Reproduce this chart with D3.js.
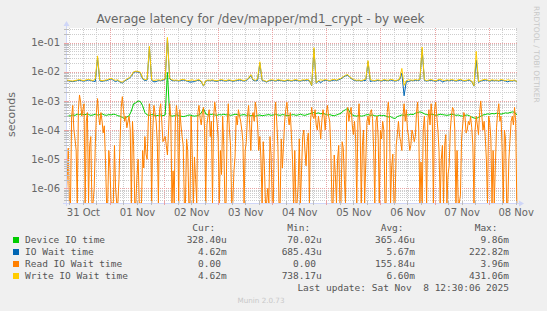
<!DOCTYPE html>
<html><head><meta charset="utf-8">
<script src="https://cdn.jsdelivr.net/npm/d3@7"></script>
<style>
html,body{margin:0;padding:0;background:#F0F0F0;}
svg{display:block;}
text{font-family:"DejaVu Sans",sans-serif;fill:#666;}
.mono{font-family:"DejaVu Sans Mono",monospace;font-size:9.5px;fill:#555;}
</style></head><body>
<svg id="c" width="547" height="311"></svg>
<script>
// ---------- data ----------
const chartTitle = "Average latency for /dev/mapper/md1_crypt - by week";
const yAxisLabel = "seconds";
const startTime = Date.UTC(2025, 9, 31, 4, 30);   // first sample
const hourMs = 3600 * 1000;                         // green/blue/yellow: hourly samples
const halfHourMs = 1800 * 1000;                     // read IO wait: 30-minute samples
const xTickLabels = ["31 Oct","01 Nov","02 Nov","03 Nov","04 Nov","05 Nov","06 Nov","07 Nov","08 Nov"];
const xTickDates = [Date.UTC(2025,9,31,12),Date.UTC(2025,10,1,12),Date.UTC(2025,10,2,12),Date.UTC(2025,10,3,12),
  Date.UTC(2025,10,4,12),Date.UTC(2025,10,5,12),Date.UTC(2025,10,6,12),Date.UTC(2025,10,7,12),Date.UTC(2025,10,8,12)];
const yTickValues = [1e-6,1e-5,1e-4,1e-3,1e-2,1e-1];
const yTickLabels = ["1e-06","1e-05","1e-04","1e-03","1e-02","1e-01"];
const seriesNames = ["Device IO time","IO Wait time","Read IO Wait time","Write IO Wait time"];
const seriesColors = ["#00CC00","#0066B3","#FF8000","#FFCC00"];

// values in milliseconds
const deviceIO = [
0.29,0.30,0.31,0.33,0.32,0.35,0.34,0.36,0.33,0.35,
0.34,0.32,0.33,0.35,0.33,0.34,0.36,0.33,0.32,0.34,
0.33,0.35,0.34,0.31,0.30,0.27,0.25,0.28,0.31,0.45,
0.80,0.86,1.0,0.95,0.68,0.40,0.33,0.32,0.34,0.33,
0.31,0.32,0.33,0.31,0.33,9.5,0.32,0.30,0.31,0.33,
0.31,0.30,0.29,0.30,0.32,0.33,0.31,0.30,0.31,0.33,
0.38,0.55,0.36,0.33,0.34,0.35,0.33,0.32,0.34,0.33,
0.35,0.33,0.34,0.32,0.33,0.35,0.34,0.32,0.33,0.34,
0.32,0.33,0.31,0.32,0.30,0.32,0.33,0.31,0.32,0.33,
0.34,0.32,0.33,0.35,0.33,0.32,0.34,0.33,0.31,0.32,
0.33,0.34,0.32,0.33,0.35,0.33,0.32,0.34,0.36,0.38,
0.40,0.37,0.39,0.36,0.38,0.35,0.33,0.34,0.32,0.31,
0.33,0.35,0.38,0.45,0.50,0.56,0.40,0.33,0.31,0.30,
0.32,0.30,0.31,0.33,0.34,0.32,0.33,0.31,0.30,0.32,
0.31,0.32,0.30,0.28,0.29,0.26,0.25,0.29,0.31,0.33,
0.32,0.34,0.33,0.35,0.34,0.38,0.40,0.42,0.40,0.36,
0.34,0.33,0.35,0.34,0.32,0.33,0.35,0.34,0.33,0.32,
0.33,0.35,0.34,0.32,0.33,0.31,0.30,0.32,0.33,0.31,
0.28,0.26,0.25,0.27,0.30,0.33,0.34,0.36,0.35,0.37,
0.36,0.38,0.37,0.35,0.37,0.39,0.38,0.40,0.42,0.41,
0.328];

const ioWait = [
5.0,4.9,4.7,4.6,4.8,5.0,5.1,4.9,4.8,5.0,
5.2,5.0,4.8,4.6,30,4.9,4.7,4.9,5.0,5.3,
5.7,5.1,4.6,5.0,4.4,4.1,4.8,5.3,5.9,7.0,
9.6,10.0,9.8,9.0,5.6,5.0,5.2,70,5.1,4.5,
4.6,5.0,4.9,5.1,5.5,140,5.7,5.0,4.9,5.0,
4.8,5.0,5.2,5.0,4.7,4.4,4.5,4.6,5.0,5.1,
4.6,3.2,4.8,5.0,4.9,5.0,4.8,4.7,5.0,5.1,
4.9,4.8,5.0,5.0,4.7,4.9,5.0,5.2,5.0,4.8,
5.0,5.7,7.5,5.1,4.9,5.0,20,5.0,4.8,4.4,
4.9,5.0,5.0,4.8,5.1,5.0,4.9,4.7,5.0,5.0,
4.8,5.0,5.1,4.9,4.8,5.0,5.0,5.2,4.9,3.3,
60,4.0,4.8,4.2,4.9,5.1,5.0,4.8,5.0,5.2,
5.0,5.3,5.7,6.5,7.2,7.6,6.3,5.5,5.0,4.9,
5.0,4.8,5.0,5.0,22,4.6,4.9,4.8,5.0,5.0,
4.8,5.1,5.0,4.9,5.2,5.0,4.8,5.0,5.3,9,
1.5,4.8,4.6,5.0,4.9,5.1,5.0,5.2,60,5.0,
4.8,5.0,5.1,4.9,4.7,5.0,5.3,4.4,4.8,5.0,
4.9,5.1,5.0,4.8,5.0,5.2,4.9,4.8,5.0,5.1,
4.6,3.2,25,4.3,4.8,5.0,5.2,5.0,4.8,5.0,
4.9,5.0,4.8,5.1,5.0,4.8,4.5,4.9,4.8,5.0,
4.62];

const readIOWait = [
0,0.002,0.024,0,0,0.3,0.7,0.1,0.05,0.02,0,0.5,1.6,0.9,0.3,0.5,0.8,0,0.2,0.4,
0,0.03,0.06,0,0,0.001,0.03,0.4,1.2,0.3,0.15,0.4,0.2,0.08,0.14,0.01,0,0,0.02,0.005,
0,0,0,0.03,0.001,0,0,0.002,0.05,0.6,1.4,0.5,0.2,0.3,0.12,0.2,0.3,0.1,0,0.2,
0.03,0,0,0.003,0.01,0,0,0,0.02,0.005,0.06,0.015,0.01,0.2,0.8,0.3,0,0.1,0.7,0.4,
0.2,0.04,0,0.5,0.8,0.2,0.04,0.05,0.06,0.03,0.014,0.1,0.8,0.3,0,0.004,0,0.2,0.7,0.3,
0,0.5,0.15,0.06,0.03,0,0,0.05,0.02,0,0,0.3,0.015,0,0.012,0.002,0,0.4,0.7,0.25,
0.15,0.4,0.6,0.1,0,0.15,0.3,0.5,0.06,0.2,0,0.3,0.9,0.4,0.2,0.05,0,0.02,0.003,0.3,
0.03,0,0,0.15,0.8,0.1,0.03,0,0,0.004,0.012,0.3,0.15,0.5,0.3,0.2,0.1,0.04,0,0.02,
0.04,0.3,0.7,0.15,0.02,0.3,0.4,0.2,0.9,0.5,0.15,0.02,0.06,0.01,0,0.04,0.006,0,0,0.001,
0,0.06,0.014,0,0,0.3,0.9,0.2,0.03,0,0,0.05,0.005,0.03,0.2,0.5,0.9,0.3,0.15,0.4,
0.07,0.01,0,0.02,0,0,0.0013,0.05,0,0.004,0.06,0.1,0.02,0.006,0.04,0.08,0,0.2,0.6,0.3,
0.25,0.5,0.15,0.1,0.3,0.15,0.05,0.2,0.5,0.3,0.1,0.4,0.7,0.3,0.2,0.02,0,0,0.014,0.003,
0,0.01,0.03,0,0,0.04,0.025,0.002,0,0.3,0.6,0.2,0.4,0.6,0.15,0.07,0.2,0.05,0,0.2,
0.8,0.1,0,0.03,0.1,0,0.008,0.2,0.3,0.15,0.4,0.5,0.25,0.02,0,0.2,0.3,0.05,0,0.1,
0.05,0.2,0.1,0,0,0.4,0.9,0.3,0,0.006,0.015,0,0,0.03,0.07,0.2,0.06,0.04,0.02,0.3,
0.8,0.2,0.5,0.1,0.06,0.02,0.03,0.1,0.07,0.04,0.06,0.4,0.9,0.1,0,0.008,0,0.1,0.3,0.04,
0,0.2,0.5,0.15,0.8,0.3,0,0.5,0.9,0.3,0.1,0.02,0,0.01,0.03,0,0.03,0.07,0,0.003,
0.006,0.1,0.3,0.6,0.5,0.1,0,0.02,0,0,0.0006,0.05,0.15,0.4,0.3,0.08,0.1,0.2,0.15,0.3,
0.12,0.03,0,0.1,0.3,0.15,0.07,0.4,1.0,0.3,0.1,0.2,0.06,0.01,0,0.3,0.18,0.05,0,0.02,
0,0.006,0.12,0.4,0.8,0.2,0.3,0.02,0,0.1,0.05,0,0,0.01,0.05,0.2,0.3,0.15,0.6,0.2,
0];

const writeIOWait = [
5.3,5.1,4.9,4.8,5.0,5.2,5.4,5.1,5.0,5.3,
5.5,5.2,5.0,5.6,35,5.2,4.9,5.1,5.3,5.6,
6.0,5.4,5.1,5.3,4.6,4.4,5.0,5.6,6.2,7.5,
10,10.5,10.2,9.6,6.0,5.3,5.5,75,5.4,5.0,
5.2,5.3,5.1,5.4,5.8,150,6.0,5.3,5.1,5.2,
5.0,5.3,5.5,5.2,4.9,5.1,5.3,5.0,5.2,5.4,
4.8,3.3,5.0,5.2,5.1,5.3,5.0,4.9,5.2,5.4,
5.1,5.0,5.3,5.2,4.9,5.1,5.3,5.5,5.2,5.0,
5.3,6.0,8.0,5.4,5.1,5.6,22,5.3,5.0,4.6,
5.1,5.3,5.2,5.0,5.4,5.2,5.1,4.9,5.3,5.2,
5.0,5.2,5.4,5.1,5.0,5.3,5.2,5.5,5.1,3.4,
67,4.2,5.0,5.3,5.1,5.4,5.2,5.0,5.3,5.5,
5.2,5.6,6.0,6.8,7.6,8.0,6.6,5.8,5.3,5.1,
5.2,5.0,5.3,5.6,24,5.4,5.1,5.0,5.3,5.2,
5.0,5.4,5.2,5.1,5.5,5.3,5.0,5.2,5.6,13,
3.4,5.0,5.3,5.2,5.1,5.4,5.2,5.5,70,5.3,
5.0,5.2,5.4,5.1,4.9,5.3,5.6,5.2,5.0,5.3,
5.1,5.4,5.2,5.0,5.3,5.5,5.1,5.0,5.2,5.4,
4.8,3.3,50,4.6,5.0,5.3,5.5,5.2,5.0,5.3,
5.1,5.2,5.0,5.4,5.2,5.0,5.3,5.1,5.0,5.2,
4.62];

const legendCur = ["328.40u","4.62m","0.00","4.62m"];
const legendMin = ["70.02u","685.43u","0.00","738.17u"];
const legendAvg = ["365.46u","5.67m","155.84u","6.60m"];
const legendMax = ["9.86m","222.82m","3.96m","431.06m"];
const legendHeaders = ["Cur:","Min:","Avg:","Max:"];
const lastUpdate = "Last update: Sat Nov  8 12:30:06 2025";
const footer = "Munin 2.0.73";
const watermark = "RRDTOOL / TOBI OETIKER";

// ---------- layout ----------
const L = 66, R = 517, T = 28, B = 203;
const svg = d3.select("#c");
const endTime = startTime + (writeIOWait.length - 1) * hourMs;

const x = d3.scaleUtc().domain([new Date(startTime), new Date(endTime)]).range([L, 516.8]);
const y = d3.scaleLog().domain([Math.pow(10, -6.5), Math.pow(10, -0.5)]).range([B, T]).clamp(true);

svg.append("rect").attr("x", L).attr("y", T).attr("width", R - L).attr("height", B - T).attr("fill", "#FFFFFF");

// grid
const minorCol = "#cdcdcd", majorCol = "#eaa3a3";
const gGrid = svg.append("g");
const xMinor = x.ticks(d3.utcHour.every(6));
const xMajor = x.ticks(d3.utcDay.every(1));
const yAll = y.ticks(30);
const isMajorY = v => Math.abs(Math.log10(v) - Math.round(Math.log10(v))) < 1e-6;

gGrid.selectAll(".vmin").data(xMinor.filter(d => d.getUTCHours() !== 0)).join("line")
  .attr("x1", d => Math.round(x(d)) + 0.5).attr("x2", d => Math.round(x(d)) + 0.5)
  .attr("y1", T).attr("y2", B).attr("stroke", minorCol).attr("stroke-dasharray", "1,1");
gGrid.selectAll(".hmin").data(yAll.filter(v => !isMajorY(v))).join("line")
  .attr("y1", d => Math.round(y(d)) + 0.5).attr("y2", d => Math.round(y(d)) + 0.5)
  .attr("x1", L).attr("x2", R).attr("stroke", minorCol).attr("stroke-dasharray", "1,1");
gGrid.selectAll(".vmaj").data(xMajor).join("line")
  .attr("x1", d => Math.round(x(d)) + 0.5).attr("x2", d => Math.round(x(d)) + 0.5)
  .attr("y1", T).attr("y2", B).attr("stroke", majorCol).attr("stroke-dasharray", "1,1");
gGrid.selectAll(".hmaj").data(yAll.filter(isMajorY)).join("line")
  .attr("y1", d => Math.round(y(d)) + 0.5).attr("y2", d => Math.round(y(d)) + 0.5)
  .attr("x1", L).attr("x2", R).attr("stroke", majorCol).attr("stroke-dasharray", "1,1");

// series
svg.append("clipPath").attr("id", "clip").append("rect")
  .attr("x", L).attr("y", T).attr("width", R - L + 1).attr("height", B - T);
const seriesData = [deviceIO, ioWait, readIOWait, writeIOWait];
const seriesStep = [hourMs, hourMs, halfHourMs, hourMs];
seriesData.forEach((vals, k) => {
  const line = d3.line()
    .x((d, i) => x(new Date(startTime + i * seriesStep[k])))
    .y(d => y(d > 0 ? d * 1e-3 : y.domain()[0]));
  svg.append("path").datum(vals).attr("d", line)
    .attr("fill", "none").attr("stroke", seriesColors[k]).attr("stroke-width", 1)
    .attr("clip-path", "url(#clip)");
});

// axes
const axisCol = "#CFD6F8";
svg.append("line").attr("x1", L - 3).attr("x2", R + 3).attr("y1", B + 0.5).attr("y2", B + 0.5).attr("stroke", axisCol);
svg.append("line").attr("x1", L + 0.5).attr("x2", L + 0.5).attr("y1", B + 3).attr("y2", T - 3).attr("stroke", axisCol);
svg.append("path").attr("d", `M${R + 2},${B - 2.5}L${R + 7},${B + 0.5}L${R + 2},${B + 3.5}Z`).attr("fill", axisCol);
svg.append("path").attr("d", `M${L - 2.5},${T - 2}L${L + 0.5},${T - 7}L${L + 3.5},${T - 2}Z`).attr("fill", axisCol);

// small tick marks on axes
svg.selectAll(".ytk").data(yAll).join("line")
  .attr("x1", L - 2).attr("x2", L + 3).attr("y1", d => Math.round(y(d)) + 0.5).attr("y2", d => Math.round(y(d)) + 0.5)
  .attr("stroke", d => isMajorY(d) ? majorCol : "#bdbdbd");
svg.selectAll(".xtk").data(xMinor).join("line")
  .attr("y1", B - 2).attr("y2", B + 2).attr("x1", d => Math.round(x(d)) + 0.5).attr("x2", d => Math.round(x(d)) + 0.5)
  .attr("stroke", d => d.getUTCHours() === 0 ? majorCol : "#bdbdbd");

const yAxis = d3.axisLeft(y).tickValues(yTickValues).tickFormat((d, i) => yTickLabels[i]).tickSize(0).tickPadding(6);
const gy = svg.append("g").attr("transform", `translate(${L},0)`).call(yAxis);
gy.select(".domain").remove();
gy.selectAll("text").attr("font-family", "DejaVu Sans").attr("font-size", 10).attr("fill", "#666");

const xAxis = d3.axisBottom(x).tickValues(xTickDates.map(d => new Date(d))).tickFormat((d, i) => xTickLabels[i]).tickSize(0).tickPadding(6);
const gx = svg.append("g").attr("transform", `translate(0,${B})`).call(xAxis);
gx.select(".domain").remove();
gx.selectAll("text").attr("font-family", "DejaVu Sans").attr("font-size", 10).attr("fill", "#666");

// title & labels
svg.append("text").attr("x", 260.5).attr("y", 23).attr("text-anchor", "middle")
  .attr("font-size", 12).text(chartTitle);
svg.append("text").attr("transform", "translate(15,114.5) rotate(-90)").attr("text-anchor", "middle")
  .attr("font-size", 11).text(yAxisLabel);
svg.append("text").attr("transform", "translate(534.3,6) rotate(90)").attr("text-anchor", "start")
  .attr("font-size", 7.5).style("fill", "#c8c8c8").text(watermark);
svg.append("text").attr("x", 261).attr("y", 303).attr("text-anchor", "middle")
  .attr("font-size", 7.2).style("fill", "#c8c8c8").text(footer);

// legend
const charW = 5.72;
const colEnds = [226.7, 321.7, 415, 509];
const cols = [legendCur, legendMin, legendAvg, legendMax];
const lg = svg.append("g");
legendHeaders.forEach((h, c) => {
  lg.append("text").attr("class", "mono").attr("x", colEnds[c] - 2 * charW).attr("y", 231)
    .attr("text-anchor", "end").text(h);
});
seriesNames.forEach((name, r) => {
  const by = 243 + r * 12;
  lg.append("rect").attr("x", 13).attr("y", by - 6).attr("width", 6).attr("height", 6).attr("fill", seriesColors[r]);
  lg.append("text").attr("class", "mono").attr("x", 25).attr("y", by).text(name);
  cols.forEach((col, c) => {
    const s = col[r];
    const xe = /[a-zA-Z]$/.test(s) ? colEnds[c] : colEnds[c] - charW;
    lg.append("text").attr("class", "mono").attr("x", xe).attr("y", by).attr("text-anchor", "end").text(s);
  });
});
lg.append("text").attr("class", "mono").attr("x", 509).attr("y", 291).attr("text-anchor", "end")
  .style("white-space", "pre").text(lastUpdate);
</script>
</body></html>
